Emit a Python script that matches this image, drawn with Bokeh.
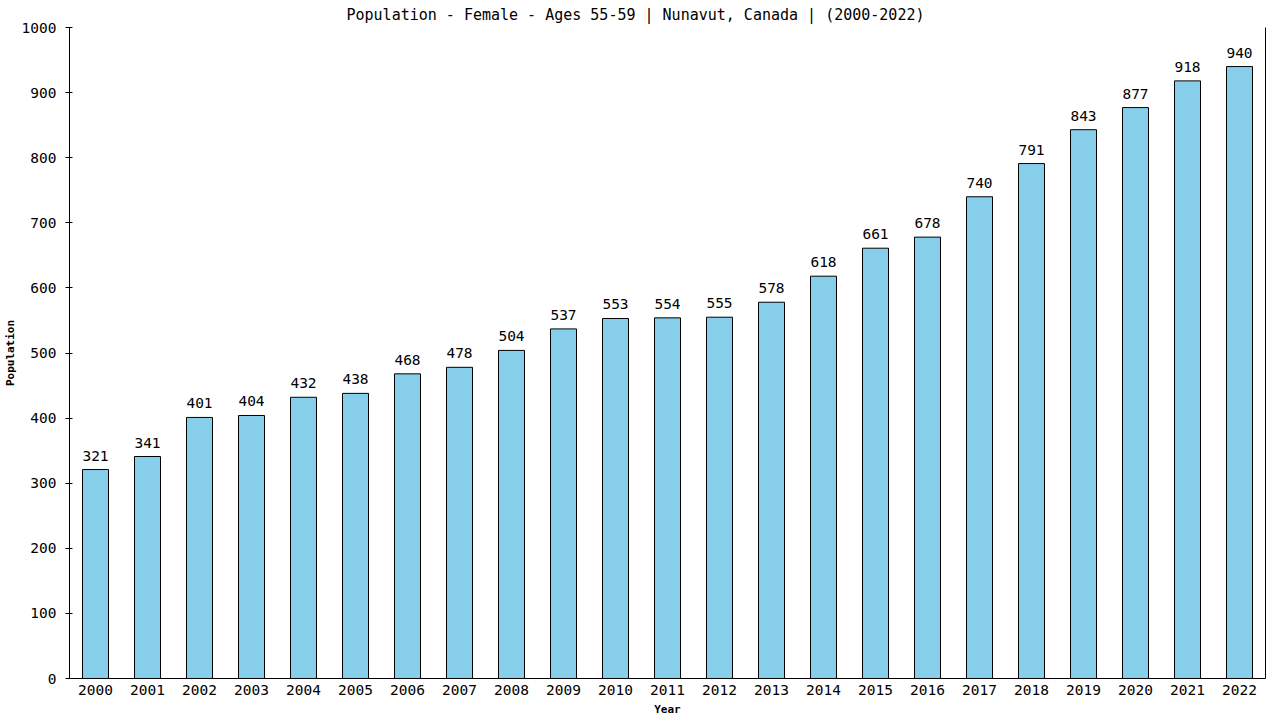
from bokeh.plotting import figure
from bokeh.models import ColumnDataSource, LinearAxis, Range1d, FactorRange, Title, SingleIntervalTicker
from bokeh.embed import file_html
from bokeh.resources import INLINE
from bokeh.core.properties import value

years = [str(y) for y in range(2000, 2023)]
population = [321, 341, 401, 404, 432, 438, 468, 478, 504, 537, 553, 554, 555,
              578, 618, 661, 678, 740, 791, 843, 877, 918, 940]
title_text = "Population - Female - Ages 55-59 | Nunavut, Canada |  (2000-2022)"
x_label = "Year"
y_label = "Population"

FONT = "DejaVu Sans Mono"

src = ColumnDataSource(dict(year=years, pop=population, lab=[str(v) for v in population]))

p = figure(width=1280, height=720, x_range=FactorRange(*years, range_padding=0),
           y_range=Range1d(0, 1000), output_backend="svg", toolbar_location=None,
           min_border_left=69, min_border_right=15, min_border_top=25, min_border_bottom=42)
p.title = Title(text=title_text, align="left", text_font=FONT, text_font_size="15px",
                text_font_style="normal", text_color="black", offset=277, standoff=7)
p.outline_line_color = None
p.xgrid.grid_line_color = None
p.ygrid.grid_line_color = None
p.background_fill_color = "white"
p.border_fill_color = "white"

p.vbar(x="year", top="pop", width=0.5, source=src, fill_color="#87CEEB",
       line_color="black", line_width=1)
p.text(x="year", y="pop", text="lab", source=src, text_align="center",
       text_baseline="bottom", y_offset=-9, text_font=value(FONT),
       text_font_size="14.5px", text_color="black")

for ax in p.xaxis + p.yaxis:
    ax.major_label_text_font = FONT
    ax.major_label_text_font_size = "14.5px"
    ax.major_label_text_color = "black"
    ax.axis_label_text_font = FONT
    ax.axis_label_text_font_size = "11px"
    ax.axis_label_text_font_style = "bold"
    ax.axis_label_text_color = "black"
    ax.axis_line_color = "black"
    ax.major_tick_line_color = "black"
    ax.minor_tick_line_color = None

p.xaxis.axis_label = x_label
p.xaxis.major_tick_line_color = None
p.xaxis.major_label_standoff = 0
p.xaxis.axis_label_standoff = 5

p.yaxis.axis_label = y_label
p.yaxis.ticker = SingleIntervalTicker(interval=100)
p.yaxis.major_tick_in = 3
p.yaxis.major_tick_out = 4
p.yaxis.major_label_standoff = 9
p.yaxis.axis_label_standoff = 2

right = LinearAxis(ticker=[], major_label_text_font_size="0px",
                   major_tick_line_color=None, minor_tick_line_color=None,
                   axis_line_color="black")
p.add_layout(right, "right")

open("out.html", "w").write(file_html(p, INLINE))
